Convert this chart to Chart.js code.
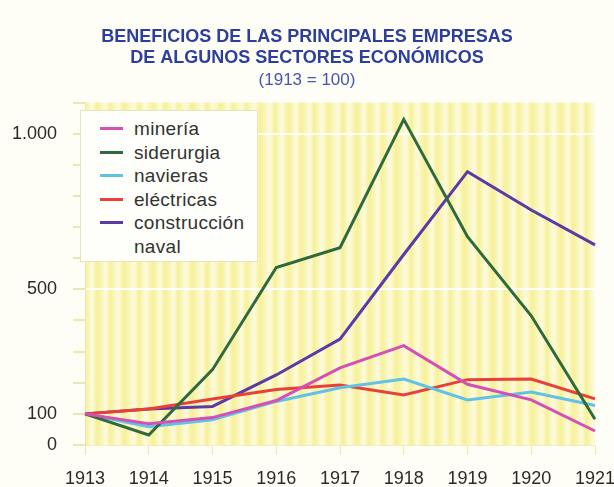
<!DOCTYPE html>
<html>
<head>
<meta charset="utf-8">
<script src="https://cdn.jsdelivr.net/npm/chart.js@4"></script>
<style>
  html, body { margin: 0; padding: 0; background: #fefef7; }
  #wrap { position: relative; width: 614px; height: 487px; }
  #leyenda {
    position: absolute; left: 80px; top: 110px; width: 178px; height: 152px;
    background: #fefefa; border: 1px solid #e8e4bc; box-sizing: border-box;
    padding: 6px 0 0 19px;
    font-family: "Liberation Sans", Arial, sans-serif; font-size: 19px; color: #333;
    line-height: 23.5px; letter-spacing: 0.3px;
  }
  #leyenda .item { display: flex; align-items: flex-start; }
  #leyenda .swatch { width: 23px; height: 3px; margin: 10px 11px 0 0; flex: none; }
</style>
</head>
<body>
<div id="wrap">
  <canvas id="grafico" width="614" height="487"></canvas>
  <div id="leyenda"></div>
</div>
<script>
// Datos (1913 = 100)
const anios = ['1913', '1914', '1915', '1916', '1917', '1918', '1919', '1920', '1921'];
const mineria      = [100, 68, 88, 143, 248, 319, 195, 145, 45];
const siderurgia   = [100, 32, 242, 570, 634, 1046, 669, 415, 83];
const navieras     = [100, 59, 81, 140, 184, 212, 145, 170, 127];
const electricas   = [100, 116, 148, 178, 193, 161, 210, 212, 148];
const construccion = [100, 116, 124, 225, 340, 612, 878, 755, 643];

const etiquetasY = { 0: '0', 100: '100', 500: '500', 1000: '1.000' };

const series = [
  { label: 'minería', data: mineria, color: '#d44fb6' },
  { label: 'siderurgia', data: siderurgia, color: '#2f6a3e' },
  { label: 'navieras', data: navieras, color: '#5fc2e6' },
  { label: 'eléctricas', data: electricas, color: '#e8413a' },
  { label: 'construcción\nnaval', data: construccion, color: '#5b3aa6' }
];

// Fondo amarillo con vetas claras
const fondoPlugin = {
  id: 'fondo',
  beforeDraw(chart) {
    const { ctx, chartArea: a } = chart;
    const grad = ctx.createLinearGradient(a.left, 0, a.right, 0);
    const anchos = [7, 5, 9, 4, 8, 6, 10, 5, 6, 8];
    const total = a.right - a.left;
    let x = 0, i = 0;
    while (x < total) {
      const c = i % 2 === 0 ? '#f6f096' : '#fdfbdf';
      grad.addColorStop(Math.min(x / total, 1), c);
      x += anchos[i % anchos.length];
      i++;
    }
    ctx.save();
    ctx.fillStyle = grad;
    ctx.fillRect(a.left, a.top, a.right - a.left, a.bottom - a.top);
    ctx.restore();
  }
};

const chart = new Chart(document.getElementById('grafico'), {
  type: 'line',
  data: {
    labels: anios,
    datasets: series.map(s => ({
      label: s.label,
      data: s.data,
      borderColor: s.color,
      backgroundColor: s.color,
      borderWidth: 3,
      pointRadius: 0,
      tension: 0,
      fill: false
    }))
  },
  options: {
    responsive: false,
    animation: false,
    layout: { padding: { left: 0, right: 0, top: 0, bottom: 0 } },
    plugins: {
      legend: { display: false },
      tooltip: { enabled: false },
      title: {
        display: true,
        text: ['BENEFICIOS DE LAS PRINCIPALES EMPRESAS', 'DE ALGUNOS SECTORES ECONÓMICOS'],
        color: '#2c3f9c',
        font: { family: 'Liberation Sans', size: 18, weight: 'bold', lineHeight: 1.2 },
        padding: { top: 26, bottom: 1 }
      },
      subtitle: {
        display: true,
        text: '(1913 = 100)',
        color: '#4656ae',
        font: { family: 'Liberation Sans', size: 17, lineHeight: 1.2 },
        padding: { top: 0, bottom: 12 }
      }
    },
    scales: {
      x: {
        offset: false,
        grid: { color: 'rgba(0,0,0,0)', tickColor: '#ece6b0', tickLength: 10 },
        border: { color: '#f2edba', width: 1 },
        ticks: { color: '#2a2a2a', font: { family: 'Liberation Sans', size: 18 }, padding: 13, maxRotation: 0, autoSkip: false },
        afterFit(scale) {
          scale.height = 42;
          scale.paddingLeft = 0;
          scale.paddingRight = 19;
        }
      },
      y: {
        min: 0,
        max: 1100,
        grid: {
          color: ctx => (ctx.tick && (ctx.tick.value === 500 || ctx.tick.value === 1000)) ? 'rgba(255,255,255,0.95)' : 'rgba(0,0,0,0)',
          tickColor: '#ece6b0',
          tickLength: 12,
          lineWidth: 2
        },
        border: { color: '#eee8a8', width: 1 },
        ticks: {
          stepSize: 100,
          color: '#2a2a2a',
          font: { family: 'Liberation Sans', size: 18 },
          padding: 16,
          callback: v => (etiquetasY[v] !== undefined ? etiquetasY[v] : '')
        },
        afterFit(scale) { scale.width = 85; }
      }
    }
  },
  plugins: [fondoPlugin]
});

// Leyenda en HTML
const leyenda = document.getElementById('leyenda');
leyenda.innerHTML = chart.data.datasets.map(d => `
  <div class="item"><span class="swatch" style="background:${d.borderColor}"></span><span>${d.label.replace('\n', '<br>')}</span></div>
`).join('');
</script>
</body>
</html>
